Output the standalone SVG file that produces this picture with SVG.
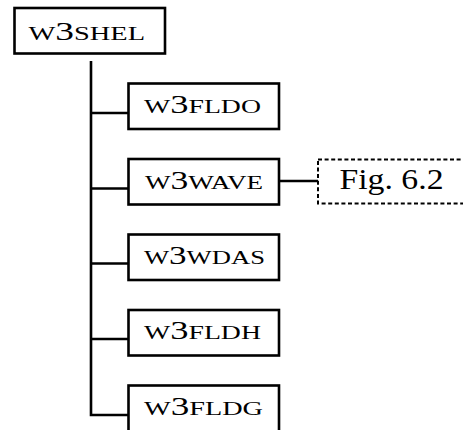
<svg xmlns="http://www.w3.org/2000/svg" width="463" height="430" viewBox="0 0 463 430">
  <style>
    .box { fill: #ffffff; stroke: #000000; stroke-width: 2.6; }
    .dash { fill: #ffffff; stroke: #000000; stroke-width: 2; stroke-dasharray: 4 2.6; }
    .line { fill: none; stroke: #000000; stroke-width: 2.6; }
    .sc { font-family: "Liberation Serif", "Times New Roman", serif; font-size: 19px; fill: #000000; }
    .dg { font-size: 25px; }
    .fig { font-family: "Liberation Serif", "Times New Roman", serif; font-size: 29px; fill: #000000; }
  </style>
  <rect width="463" height="430" fill="#ffffff"/>
  <g id="connectors">
    <path class="line" d="M91 61 V415 H129"/>
    <line class="line" x1="91" y1="113" x2="129" y2="113"/>
    <line class="line" x1="91" y1="188.5" x2="129" y2="188.5"/>
    <line class="line" x1="91" y1="263.5" x2="129" y2="263.5"/>
    <line class="line" x1="91" y1="339" x2="129" y2="339"/>
    <line class="line" x1="279" y1="181" x2="318" y2="181"/>
  </g>
  <g id="w3shel">
    <rect class="box" x="14.5" y="8" width="150.5" height="45.5"/>
    <text class="sc" x="28.5" y="39.5" textLength="116.5" lengthAdjust="spacingAndGlyphs">W<tspan class="dg">3</tspan>SHEL</text>
  </g>
  <g id="w3fldo">
    <rect class="box" x="128.5" y="83.5" width="150.5" height="45.5"/>
    <text class="sc" x="144" y="113" textLength="117" lengthAdjust="spacingAndGlyphs">W<tspan class="dg">3</tspan>FLDO</text>
  </g>
  <g id="w3wave">
    <rect class="box" x="128.5" y="159" width="150.5" height="45.5"/>
    <text class="sc" x="145" y="188.5" textLength="118" lengthAdjust="spacingAndGlyphs">W<tspan class="dg">3</tspan>WAVE</text>
  </g>
  <g id="fig62">
    <rect class="dash" x="318" y="159.5" width="160" height="44"/>
    <text class="fig" x="339.5" y="188.5" textLength="104" lengthAdjust="spacingAndGlyphs">Fig. 6.2</text>
  </g>
  <g id="w3wdas">
    <rect class="box" x="128.5" y="234.5" width="150.5" height="45.5"/>
    <text class="sc" x="144" y="263.5" textLength="121" lengthAdjust="spacingAndGlyphs">W<tspan class="dg">3</tspan>WDAS</text>
  </g>
  <g id="w3fldh">
    <rect class="box" x="128.5" y="310" width="150.5" height="45.5"/>
    <text class="sc" x="144" y="339" textLength="117" lengthAdjust="spacingAndGlyphs">W<tspan class="dg">3</tspan>FLDH</text>
  </g>
  <g id="w3fldg">
    <rect class="box" x="128.5" y="385.5" width="150.5" height="60"/>
    <text class="sc" x="144" y="415" textLength="119" lengthAdjust="spacingAndGlyphs">W<tspan class="dg">3</tspan>FLDG</text>
  </g>
</svg>
